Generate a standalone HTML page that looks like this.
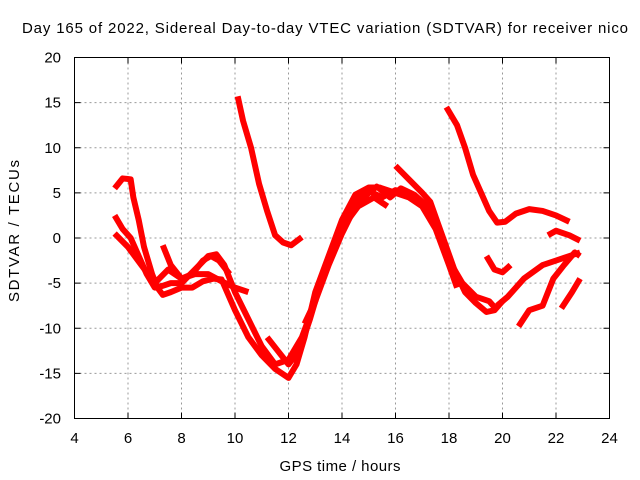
<!DOCTYPE html>
<html><head><meta charset="utf-8"><style>
body{margin:0;background:#fff}
svg{display:block;font-family:"Liberation Sans",sans-serif}
</style></head><body>
<svg id="chart" width="640" height="480" viewBox="0 0 640 480" xmlns="http://www.w3.org/2000/svg">
<rect width="640" height="480" fill="#fff"/>
<text x="325" y="33" font-size="15" text-anchor="middle" fill="#000" textLength="606" lengthAdjust="spacing">Day 165 of 2022, Sidereal Day-to-day VTEC variation (SDTVAR) for receiver nico</text>
<text x="340" y="471" font-size="15" text-anchor="middle" fill="#000" textLength="121" lengthAdjust="spacing">GPS time / hours</text>
<text x="0" y="0" font-size="15" text-anchor="middle" fill="#000" textLength="142" lengthAdjust="spacing" transform="translate(19,231) rotate(-90)">SDTVAR / TECUs</text>
<g id="grid"></g>
<g id="ticks"></g>
<g id="series"></g>
<rect x="74.5" y="57.5" width="535" height="361" fill="none" stroke="#000" stroke-width="1"/>
</svg>
<script>
const xTicks=[4,6,8,10,12,14,16,18,20,22,24];
const yTicks=[20,15,10,5,0,-5,-10,-15,-20];
const trackA=[[5.5,5.5],[5.8,6.6],[6.1,6.5],[6.2,4.5],[6.4,2],[6.6,-1],[6.9,-4],[7.1,-5.5],[7.3,-6.3],[7.6,-6],[8,-5.5],[8.4,-5.5],[8.8,-4.8],[9.2,-4.5],[9.5,-4.6],[10,-8],[10.5,-11],[11,-13],[11.5,-14.5],[12,-15.5],[12.3,-14],[12.6,-11],[13,-6],[13.5,-2],[14,2],[14.5,4.8],[15,5.6],[15.4,5.6],[16,5],[16.5,4.5],[17,3.5],[17.5,1],[18,-3],[18.3,-5.5]];
const trackB=[[5.5,2.5],[5.8,1],[6.1,0],[6.4,-2],[6.7,-4],[7,-5.5],[7.3,-5.3],[7.6,-5],[8,-5],[8.5,-3.5],[9,-2],[9.3,-1.8],[9.6,-3],[10,-6],[10.5,-9],[11,-12],[11.5,-14],[12,-13.5],[12.5,-11],[13,-7],[13.5,-3],[14,0.5],[14.5,3.5],[15,5],[15.3,5.7],[15.8,4.5],[16.2,5.5],[16.7,4.8],[17.2,3.5],[17.6,0.8],[18,-2.5],[18.5,-5],[19,-6.5],[19.5,-7],[19.8,-8]];
const trackC=[[5.5,0.5],[6,-1],[6.5,-3],[7,-5],[7.5,-3.5],[8,-4.5],[8.5,-4],[9,-4],[9.5,-4.8],[10,-5.5],[10.5,-6]];
const trackD=[[10.1,15.7],[10.3,13],[10.6,10],[10.9,6],[11.2,3],[11.5,0.3],[11.8,-0.5],[12.1,-0.8],[12.5,0.1]];
const trackE=[[7.3,-0.8],[7.6,-3],[8,-4.5],[8.4,-4],[8.8,-2.5],[9.1,-2],[9.4,-2.5],[9.8,-4]];
const trackF=[[16,8],[16.5,6.5],[17,5],[17.3,4],[17.6,1.5],[17.9,-1],[18.2,-3.5],[18.6,-6],[19,-7.2],[19.4,-8.2],[19.7,-8],[20,-7]];
const trackG=[[17.9,14.5],[18.3,12.5],[18.6,10],[18.9,7],[19.2,5],[19.5,3],[19.8,1.7],[20.1,1.8],[20.5,2.7],[21,3.2],[21.5,3],[22,2.5],[22.5,1.8]];
const trackH=[[21.7,0.3],[22,0.8],[22.5,0.3],[22.9,-0.3]];
const trackI=[[19.4,-2],[19.7,-3.5],[20,-3.8],[20.3,-3]];
const trackJ=[[19.8,-7.5],[20.2,-6.5],[20.8,-4.5],[21.5,-3],[22,-2.5],[22.5,-2],[22.9,-1.6]];
const trackK=[[20.6,-9.8],[21,-8],[21.5,-7.5],[21.9,-4.5],[22.3,-3],[22.7,-1.6],[22.9,-2]];
const trackL=[[22.2,-7.8],[22.6,-6],[22.9,-4.5]];
const trackM=[[11.2,-11],[11.6,-12.5],[12,-14],[12.4,-12.5],[12.8,-9],[13.2,-5],[13.6,-2],[14,1],[14.5,4],[15,5.2],[15.5,4.5],[16,5.3],[16.5,5]];
const trackN=[[12.6,-9.5],[13,-7],[13.3,-4],[13.7,-1.5],[14.1,1.5],[14.6,3.5],[15.2,4.5],[15.7,3.5]];
const tracks=[trackA,trackB,trackC,trackD,trackE,trackF,trackG,trackH,trackI,trackJ,trackK,trackL,trackM,trackN];
const X0=74.5,X1=609.5,Y0=418.5,Y1=57.5;
function sx(v){return X0+(v-4)/20*(X1-X0);}
function sy(v){return Y0-(v+20)/40*(Y0-Y1);}
const NS="http://www.w3.org/2000/svg";
const grid=document.getElementById('grid'),ticks=document.getElementById('ticks'),series=document.getElementById('series');
function mk(tag,attrs,parent){const e=document.createElementNS(NS,tag);for(const k in attrs)e.setAttribute(k,attrs[k]);parent.appendChild(e);return e;}
xTicks.forEach(v=>{
  const x=sx(v);
  if(v>4&&v<24){const g=mk('line',{x1:x,x2:x,y1:Y1,y2:Y0,stroke:'#999','stroke-dasharray':'2,3'},grid);
    
    }
  mk('line',{x1:x,x2:x,y1:Y0,y2:Y0-6,stroke:'#000'},ticks);
  mk('line',{x1:x,x2:x,y1:Y1,y2:Y1+6,stroke:'#000'},ticks);
  const t=mk('text',{x:x,y:443,'font-size':15,'text-anchor':'middle',fill:'#000'},ticks);t.textContent=v;
  
  
});
yTicks.forEach(v=>{
  const y=sy(v);
  if(v>-20&&v<20){const g=mk('line',{x1:X0,x2:X1,y1:y,y2:y,stroke:'#999','stroke-dasharray':'2,3'},grid);
    
    }
  mk('line',{x1:X0,x2:X0+6,y1:y,y2:y,stroke:'#000'},ticks);
  mk('line',{x1:X1,x2:X1-6,y1:y,y2:y,stroke:'#000'},ticks);
  const t=mk('text',{x:61,y:y+5,'font-size':15,'text-anchor':'end',fill:'#000'},ticks);t.textContent=v;
  
  
});
tracks.forEach(tr=>{
  const p=mk('polyline',{points:tr.map(d=>sx(d[0])+','+sy(d[1])).join(' '),fill:'none',stroke:'#f00','stroke-width':6,'stroke-linejoin':'round','stroke-linecap':'butt'},series);
  
  
});
</script>
</body></html>
